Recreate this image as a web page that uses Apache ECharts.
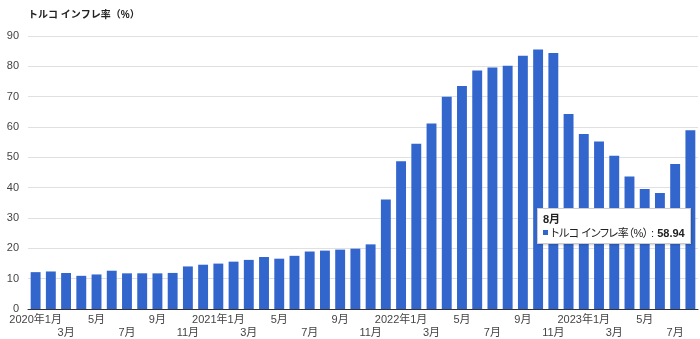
<!DOCTYPE html>
<html><head><meta charset="utf-8">
<script src="https://cdn.jsdelivr.net/npm/echarts@6/dist/echarts.min.js"></script>
<style>html,body{margin:0;padding:0;background:#fff}#c{width:700px;height:339px}</style>
</head><body><div id="c"></div>
<script>
var categories = ['2020年1月','2月','3月','4月','5月','6月','7月','8月','9月','10月','11月','12月',
 '2021年1月','2月','3月','4月','5月','6月','7月','8月','9月','10月','11月','12月',
 '2022年1月','2月','3月','4月','5月','6月','7月','8月','9月','10月','11月','12月',
 '2023年1月','2月','3月','4月','5月','6月','7月','8月'];
var values = [12.15,12.37,11.86,10.94,11.39,12.62,11.76,11.77,11.75,11.89,14.03,14.60,
 14.97,15.61,16.19,17.14,16.59,17.53,18.95,19.25,19.58,19.89,21.31,36.08,
 48.69,54.44,61.14,69.97,73.50,78.62,79.60,80.21,83.45,85.51,84.39,64.27,
 57.68,55.18,50.51,43.68,39.59,38.21,47.83,58.94];
var yTicks = [0,10,20,30,40,50,60,70,80,90];
var seriesName = 'トルコ インフレ率（%）';
var FF = '"Liberation Sans", Arial, "Noto Sans CJK JP", sans-serif';
var chart = echarts.init(document.getElementById('c'));
chart.setOption({
  animation: false,
  textStyle: {fontFamily: FF},
  title: {text: seriesName, left: 23, top: 5, textStyle: {fontSize: 10, fontWeight: 'bold', color: '#222', fontFamily: FF}},
  grid: {left: 28, right: 2, top: 36, bottom: 30, containLabel: false},
  tooltip: {
    trigger: 'item', alwaysShowContent: true, transitionDuration: 0,
    position: [537, 208],
    backgroundColor: '#fff', borderColor: '#ccc', borderWidth: 1, padding: [3, 5],
    extraCssText: 'box-shadow:1px 1px 2px rgba(0,0,0,0.2);border-radius:0;white-space:nowrap;',
    textStyle: {fontSize: 11, color: '#222', fontFamily: FF},
    formatter: function (p) {
      return '<div style="font-weight:bold;line-height:14px">' + p.name + '</div>' +
        '<div style="line-height:14px"><span style="display:inline-block;width:5px;height:5px;background:#3366cc;margin-right:3px;vertical-align:2px"></span>' +
        '<span style="font-feature-settings:\'palt\';letter-spacing:-0.4px">' + p.seriesName.replace(' ', '\u00a0') + '</span>\u00a0:\u00a0<b>' + p.value.toFixed(2) + '</b></div>';
    }
  },
  xAxis: {
    type: 'category', data: categories,
    axisLine: {lineStyle: {color: '#333'}},
    axisTick: {show: false},
    axisLabel: {
      interval: 0, fontSize: 11, color: '#444', margin: 4, lineHeight: 13,
      formatter: function (v, i) {
        if (i % 4 === 0) return v;
        if (i % 4 === 2) return '\n' + v;
        return '';
      }
    }
  },
  yAxis: {
    type: 'value', min: 0, max: 90, interval: 10,
    axisLine: {show: false}, axisTick: {show: false},
    axisLabel: {fontSize: 11, color: '#444', margin: 9,
      formatter: function (v) { return yTicks.indexOf(v) >= 0 ? String(v) : ''; }},
    splitLine: {lineStyle: {color: '#e0e0e0'}}
  },
  series: [{
    name: seriesName, type: 'bar', data: values, barWidth: '65%',
    itemStyle: {color: '#3366cc'}
  }]
});
chart.dispatchAction({type: 'showTip', seriesIndex: 0, dataIndex: values.length - 1});
</script></body></html>
